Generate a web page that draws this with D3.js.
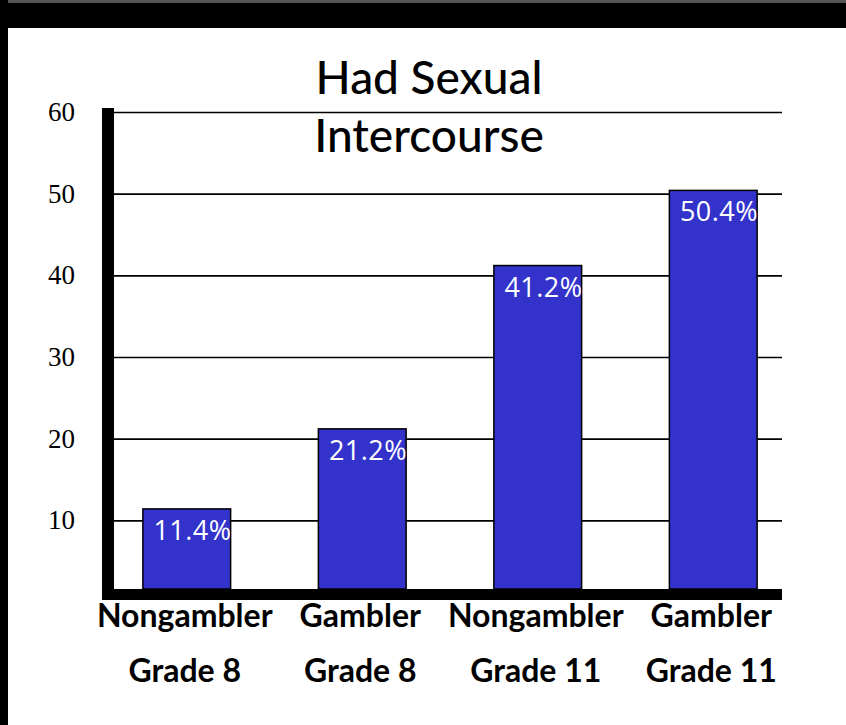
<!DOCTYPE html>
<html>
<head>
<meta charset="utf-8">
<script src="https://cdn.jsdelivr.net/npm/d3@7"></script>
<style>
body { margin: 0; background: #fff; }
svg { display: block; }
</style>
</head>
<body>
<div id="chart"></div>
<script>
// chart data
var groups = ['Nongambler', 'Gambler', 'Nongambler', 'Gambler']
var grades = ['Grade 8', 'Grade 8', 'Grade 11', 'Grade 11']
var values = [11.4, 21.2, 41.2, 50.4]
var yTicks = [10, 20, 30, 40, 50, 60]
var titleLines = ['Had Sexual', 'Intercourse']

var W = 846, H = 725
var keys = groups.map(function(g, i) { return g + ' ' + grades[i] })

var svg = d3.select('#chart').append('svg')
	.attr('width', W)
	.attr('height', H)

// dark frame at top and left (slide border)
svg.append('rect').attr('x', 0).attr('y', 0).attr('width', W).attr('height', 3).attr('fill', '#555')
svg.append('rect').attr('x', 0).attr('y', 3).attr('width', W).attr('height', 25).attr('fill', '#000')
svg.append('rect').attr('x', 0).attr('y', 0).attr('width', 8).attr('height', H).attr('fill', '#000')

var x = d3.scaleBand().domain(keys).range([99, 801]).paddingInner(0.5).paddingOuter(0.25)
var y = d3.scaleLinear().domain([0, 60]).range([602, 112])

var plotLeft = 114, plotRight = 782, floorY = 589

// gridlines + tick labels through a left axis
var yAxis = d3.axisLeft(y).tickValues(yTicks).tickSize(-(plotRight - plotLeft)).tickPadding(39)
var ga = svg.append('g')
	.attr('transform', 'translate(' + plotLeft + ',0)')
	.call(yAxis)
ga.select('.domain').remove()
ga.selectAll('.tick line').attr('stroke', '#000').attr('stroke-width', 1.6)
ga.selectAll('.tick text')
	.attr('fill', '#000')
	.style('font-family', '"Liberation Serif", "Times New Roman", serif')
	.style('font-size', '27px')

// title
svg.append('g').selectAll('text')
	.data(titleLines)
	.join('text')
	.attr('x', 429)
	.attr('y', function(d, i) { return 94 + i * 58 })
	.attr('text-anchor', 'middle')
	.style('font-family', 'Lato, "Open Sans", sans-serif')
	.style('font-size', '46px')
	.style('font-weight', 500)
	.text(function(d) { return d })

// bars
svg.append('g').selectAll('rect')
	.data(values)
	.join('rect')
	.attr('x', function(d, i) { return x(keys[i]) })
	.attr('y', function(d) { return y(d) })
	.attr('width', x.bandwidth())
	.attr('height', function(d) { return floorY - y(d) })
	.attr('fill', '#3333cc')
	.attr('stroke', '#000')
	.attr('stroke-width', 1.5)

// value labels, right aligned inside bar top
svg.append('g').selectAll('text')
	.data(values)
	.join('text')
	.attr('x', function(d, i) { return x(keys[i]) + x.bandwidth() + 1 })
	.attr('y', function(d) { return y(d) + 31 })
	.attr('text-anchor', 'end')
	.attr('fill', '#fff')
	.style('font-family', '"Open Sans", sans-serif')
	.style('font-size', '27px')
	.style('letter-spacing', '0.5px')
	.text(function(d) { return d.toFixed(1) + '%' })

// thick axis bars
svg.append('rect').attr('x', 102).attr('y', 108).attr('width', 12).attr('height', 492).attr('fill', '#000')
svg.append('rect').attr('x', 102).attr('y', floorY).attr('width', plotRight - 102).attr('height', 11).attr('fill', '#000')

// category labels, two lines
var cat = svg.append('g').selectAll('g')
	.data(keys)
	.join('g')
	.attr('transform', function(d) { return 'translate(' + (x(d) + x.bandwidth() / 2 - 2) + ',0)' })
	.style('font-family', 'Lato, "Open Sans", sans-serif')
	.style('font-size', '32px')
	.style('font-weight', 'bold')
	.attr('text-anchor', 'middle')
cat.append('text').attr('y', 627).text(function(d, i) { return groups[i] })
cat.append('text').attr('y', 682).text(function(d, i) { return grades[i] })
</script>
</body>
</html>
